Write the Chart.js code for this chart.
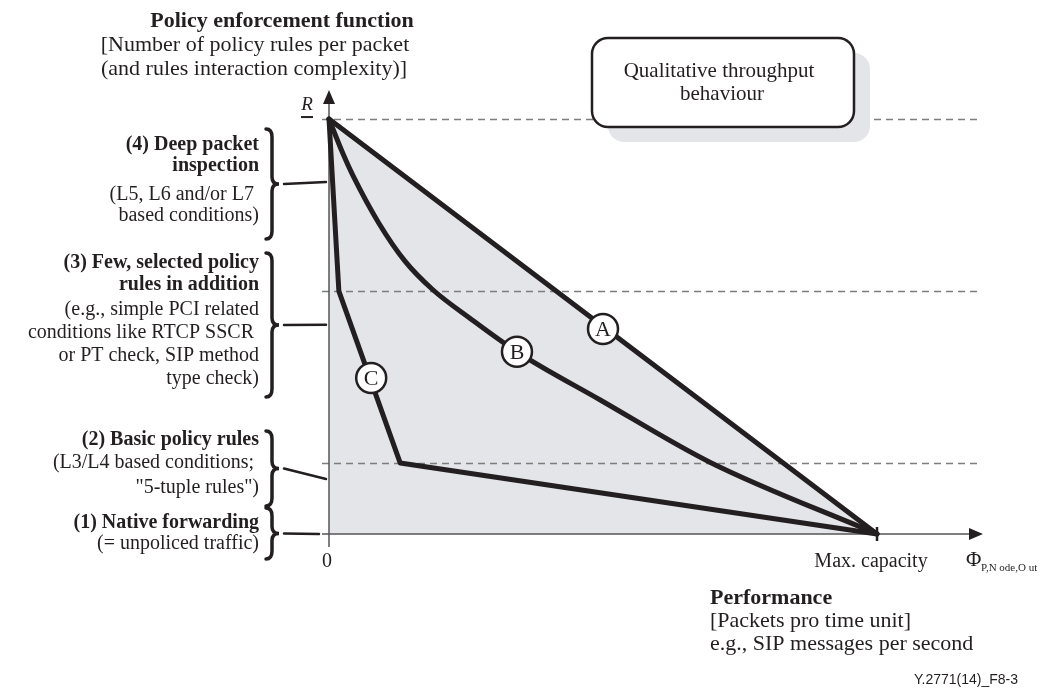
<!DOCTYPE html>
<html>
<head>
<meta charset="utf-8">
<title>Qualitative throughput behaviour</title>
<script src="https://cdn.jsdelivr.net/npm/chart.js@4.4.1/dist/chart.umd.min.js"></script>
<style>
    body { margin: 0; background: #fff; }
</style>
</head>
<body>
<canvas id="throughputChart" width="1041" height="691"></canvas>
<script>
// Curve A: straight drop from R down to max capacity
const curveAx = [0, 1]
const curveAy = [1, 0]

// Curve B: bowed curve
const curveBx = [0, 0.026, 0.044, 0.091, 0.139, 0.19, 0.257, 0.343, 0.495, 0.695, 1]
const curveBy = [1, 0.915, 0.863, 0.749, 0.657, 0.588, 0.52, 0.439, 0.323, 0.173, 0]

// Curve C: piecewise, steep first then flat
const curveCx = [0, 0.018, 0.13, 1]
const curveCy = [1, 0.5855, 0.171, 0]

// Circled names sitting on the curves
const markerNames = ["A", "B", "C"]
const markerX = [0.5, 0.343, 0.077]
const markerY = [0.494, 0.439, 0.376]

// Dashed levels (R and the policy level limits)
const levelLines = [1, 0.5855, 0.171]

// Where the bracket pointers meet the y axis
const bracketLevels = [0.848, 0.504, 0.1325, 0]

// x axis ticks
const xTickValues = [0, 1]
const xTickLabels = ["0", "Max. capacity"]

const serif = "'Liberation Serif', 'Times New Roman', serif"
const ink = "#231f20"

const toPoints = (xs, ys) => xs.map((x, i) => ({ x: x, y: ys[i] }))

function drawText(ctx, str, x, y, size, opts = {}) {
    ctx.font = (opts.italic ? "italic " : "") + (opts.bold ? "bold " : "") + size + "px " + (opts.family || serif)
    ctx.textAlign = opts.align || "left"
    ctx.textBaseline = "middle"
    ctx.fillStyle = opts.color || ink
    ctx.fillText(str, x, y)
}

// right pointing curly brace
function drawBrace(ctx, top, bottom) {
    const x0 = 266, xs = 272, xt = 279
    const mid = (top + bottom) / 2
    ctx.beginPath()
    ctx.moveTo(x0, top)
    ctx.quadraticCurveTo(xs, top, xs, top + 8)
    ctx.lineTo(xs, mid - 7)
    ctx.quadraticCurveTo(xs, mid, xt, mid)
    ctx.quadraticCurveTo(xs, mid, xs, mid + 7)
    ctx.lineTo(xs, bottom - 8)
    ctx.quadraticCurveTo(xs, bottom, x0, bottom)
    ctx.stroke()
}

// left side text blocks: [text, bold, y]
const leftGroups = [
    { brace: [128, 240], lines: [
        ["(4) Deep packet", true, 145],
        ["inspection", true, 166],
        ["(L5, L6 and/or L7 ", false, 195],
        ["based conditions)", false, 216],
    ] },
    { brace: [252, 398], lines: [
        ["(3) Few, selected policy", true, 263],
        ["rules in addition", true, 285],
        ["(e.g., simple PCI related", false, 310],
        ["conditions like RTCP SSCR ", false, 333],
        ["or PT check, SIP method", false, 356],
        ["type check)", false, 379],
    ] },
    { brace: [430, 507], lines: [
        ["(2) Basic policy rules", true, 440],
        ["(L3/L4 based conditions; ", false, 463],
        ["\"5-tuple rules\")", false, 488],
    ] },
    { brace: [507, 560], lines: [
        ["(1) Native forwarding", true, 523],
        ["(= unpoliced traffic)", false, 544],
    ] },
]

const diagramPlugin = {
    id: "diagram",
    beforeDatasetsDraw(chart) {
        const ctx = chart.ctx
        const xs = chart.scales.x
        const ys = chart.scales.y
        const x0 = xs.getPixelForValue(0)
        const y0 = ys.getPixelForValue(0)
        const xEnd = xs.getPixelForValue(xs.max)
        const yTop = ys.getPixelForValue(ys.max)
        ctx.save()

        // dashed levels
        ctx.strokeStyle = "#7d7d7d"
        ctx.lineWidth = 1.5
        ctx.setLineDash([7, 5])
        levelLines.forEach((v) => {
            const y = Math.round(ys.getPixelForValue(v)) + 0.5
            ctx.beginPath()
            ctx.moveTo(x0 - 7, y)
            ctx.lineTo(xEnd - 5, y)
            ctx.stroke()
        })
        ctx.setLineDash([])

        // axes
        ctx.strokeStyle = "#555"
        ctx.lineWidth = 1.5
        ctx.beginPath()
        ctx.moveTo(x0 - 7, y0)
        ctx.lineTo(xEnd - 10, y0)
        ctx.moveTo(x0, y0 + 13)
        ctx.lineTo(x0, yTop + 10)
        ctx.stroke()
        ctx.fillStyle = ink
        ctx.beginPath()
        ctx.moveTo(xEnd, y0)
        ctx.lineTo(xEnd - 14, y0 - 6)
        ctx.lineTo(xEnd - 14, y0 + 6)
        ctx.closePath()
        ctx.moveTo(x0, yTop)
        ctx.lineTo(x0 - 6, yTop + 14)
        ctx.lineTo(x0 + 6, yTop + 14)
        ctx.closePath()
        ctx.fill()

        // max capacity tick
        ctx.strokeStyle = ink
        ctx.lineWidth = 2.5
        const xMax = xs.getPixelForValue(xTickValues[1])
        ctx.beginPath()
        ctx.moveTo(xMax, y0 - 7)
        ctx.lineTo(xMax, y0 + 7)
        ctx.stroke()
        ctx.restore()
    },
    afterDatasetsDraw(chart) {
        const ctx = chart.ctx
        const xs = chart.scales.x
        const ys = chart.scales.y
        const x0 = xs.getPixelForValue(0)
        const y0 = ys.getPixelForValue(0)
        const xEnd = xs.getPixelForValue(xs.max)
        ctx.save()

        // letters inside circles
        chart.getDatasetMeta(0).data.forEach((pt, i) => {
            drawText(ctx, markerNames[i], pt.x, pt.y + 1, 22, { align: "center" })
        })

        // x tick labels
        drawText(ctx, xTickLabels[0], xs.getPixelForValue(xTickValues[0]) - 2, y0 + 28, 20, { align: "center" })
        drawText(ctx, xTickLabels[1], xs.getPixelForValue(xTickValues[1]) - 6, y0 + 28, 20, { align: "center" })

        // phi axis name
        drawText(ctx, "\u03A6", xEnd - 17, y0 + 26, 21)
        drawText(ctx, "P,N ode,O ut", xEnd - 2, y0 + 34, 11)

        // R label
        const yR = ys.getPixelForValue(levelLines[0])
        drawText(ctx, "R", x0 - 22, yR - 14, 19, { italic: true, align: "center" })
        ctx.strokeStyle = ink
        ctx.lineWidth = 2
        ctx.beginPath()
        ctx.moveTo(x0 - 28, yR - 2)
        ctx.lineTo(x0 - 16, yR - 2)
        ctx.stroke()

        // y axis title
        drawText(ctx, "Policy enforcement function", 282, 21, 22, { bold: true, align: "center" })
        drawText(ctx, "[Number of policy rules per packet", 255, 45, 22, { align: "center" })
        drawText(ctx, "(and rules interaction complexity)]", 254, 69, 22, { align: "center" })

        // left groups with braces and pointers
        ctx.strokeStyle = ink
        ctx.lineCap = "round"
        leftGroups.forEach((g, i) => {
            g.lines.forEach((l) => drawText(ctx, l[0], 259, l[2], 20, { bold: l[1], align: "right" }))
            ctx.lineWidth = 3.5
            drawBrace(ctx, g.brace[0] + 1, g.brace[1] - 1)
            const mid = (g.brace[0] + g.brace[1]) / 2
            ctx.lineWidth = 2.5
            ctx.beginPath()
            ctx.moveTo(284, mid)
            ctx.lineTo(i === 3 ? x0 - 10 : x0 - 3, ys.getPixelForValue(bracketLevels[i]))
            ctx.stroke()
        })

        // legend box with shadow
        ctx.fillStyle = "#e4e5e9"
        ctx.beginPath()
        ctx.roundRect(608, 53, 262, 89, 16)
        ctx.fill()
        ctx.fillStyle = "#fff"
        ctx.strokeStyle = ink
        ctx.lineWidth = 2.5
        ctx.beginPath()
        ctx.roundRect(592, 38, 262, 89, 16)
        ctx.fill()
        ctx.stroke()
        drawText(ctx, "Qualitative throughput", 719, 71, 21, { align: "center" })
        drawText(ctx, "behaviour", 722, 94, 21, { align: "center" })

        // x axis title
        drawText(ctx, "Performance", 710, 598, 22, { bold: true })
        drawText(ctx, "[Packets pro time unit]", 710, 621, 22)
        drawText(ctx, "e.g., SIP messages per second", 710, 644, 22)

        drawText(ctx, "Y.2771(14)_F8-3", 1018, 680, 14, { align: "right", family: "'Liberation Sans', Arial, sans-serif" })
        ctx.restore()
    },
}

const lineStyle = {
    borderColor: ink,
    borderWidth: 5,
    pointRadius: 0,
    fill: false,
    clip: false,
    borderJoinStyle: "round",
    borderCapStyle: "round",
}

const ctx = document.getElementById("throughputChart").getContext("2d")

const throughputChart = new Chart(ctx, {
    type: "line",
    data: {
        datasets: [
            {
                label: "Markers",
                data: toPoints(markerX, markerY),
                showLine: false,
                pointRadius: 15,
                pointBackgroundColor: "#fff",
                pointBorderColor: ink,
                pointBorderWidth: 2.5,
                clip: false,
            },
            { label: "C", data: toPoints(curveCx, curveCy), ...lineStyle },
            { label: "B", data: toPoints(curveBx, curveBy), ...lineStyle, cubicInterpolationMode: "monotone" },
            { label: "A", data: toPoints(curveAx, curveAy), ...lineStyle, fill: "origin", backgroundColor: "#e4e5e9" },
        ],
    },
    options: {
        responsive: false,
        animation: false,
        events: [],
        layout: { padding: { left: 329, right: 58, top: 90, bottom: 157 } },
        scales: {
            x: { type: "linear", min: 0, max: 1.1934, display: false },
            y: { type: "linear", min: 0, max: 1.07, display: false },
        },
        plugins: {
            legend: { display: false },
            tooltip: { enabled: false },
            filler: { drawTime: "beforeDatasetsDraw" },
        },
    },
    plugins: [diagramPlugin],
})
</script>
</body>
</html>
